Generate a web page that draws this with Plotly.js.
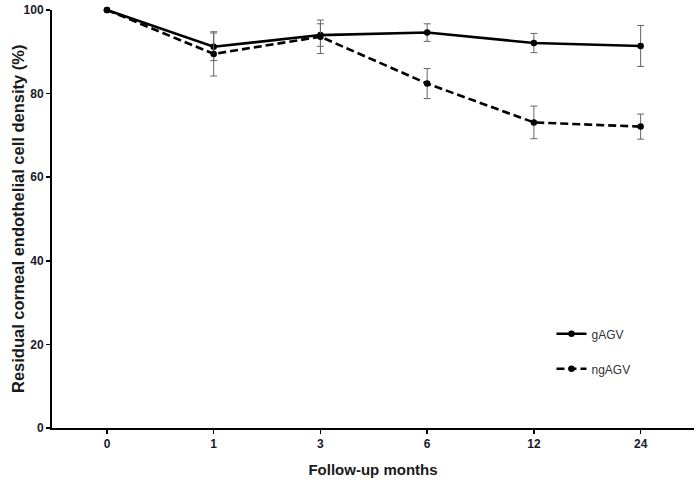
<!DOCTYPE html>
<html>
<head>
<meta charset="utf-8">
<script src="https://cdn.plot.ly/plotly-3.0.1.min.js"></script>
<style>html,body{margin:0;padding:0;background:#fff;}#chart{width:700px;height:484px;}</style>
</head>
<body>
<div id="chart"></div>
<script>
var months = ["0", "1", "3", "6", "12", "24"];
var gAGV = [100, 91.2, 94.0, 94.6, 92.1, 91.4];
var gAGV_err = [0, 3.3, 2.7, 2.1, 2.3, 4.9];
var ngAGV = [100, 89.5, 93.6, 82.4, 73.1, 72.1];
var ngAGV_err = [0, 5.3, 4.0, 3.6, 3.9, 3.0];
var yTitle = "Residual corneal endothelial cell density (%)";
var xTitle = "Follow-up months";

var traces = [
  {
    x: months, y: gAGV, name: "gAGV", type: "scatter", mode: "lines+markers",
    legendgroup: "g",
    line: {color: "#000", width: 2.6},
    marker: {color: "#000", size: 6.5},
    error_y: {type: "data", array: gAGV_err, visible: true, color: "#666", thickness: 1, width: 3.5},
    cliponaxis: false
  },
  {
    x: months, y: ngAGV, name: "ngAGV", type: "scatter", mode: "lines+markers",
    legendgroup: "n",
    line: {color: "#000", width: 2.6, dash: "8px,4px"},
    marker: {color: "#000", size: 6.5},
    error_y: {type: "data", array: ngAGV_err, visible: true, color: "#666", thickness: 1, width: 3.5},
    cliponaxis: false
  }
];

var layout = {
  width: 700, height: 484,
  margin: {l: 52, r: 6, t: 10, b: 56},
  paper_bgcolor: "#fff", plot_bgcolor: "#fff",
  font: {family: "Liberation Sans, Arial, sans-serif", color: "#111"},
  xaxis: {
    type: "category", range: [-0.515, 5.5],
    showline: true, linecolor: "#000", linewidth: 2,
    ticks: "outside", ticklen: 4, tickcolor: "#000", tickwidth: 1.5,
    showgrid: false, zeroline: false,
    tickfont: {size: 12, family: "Liberation Sans, Arial, sans-serif", weight: "bold", color: "#1a1a2a"},
    title: {text: xTitle, font: {size: 15, weight: "bold", color: "#1a1a1a"}, standoff: 14}
  },
  yaxis: {
    range: [0, 100], tickvals: [0, 20, 40, 60, 80, 100],
    showline: true, linecolor: "#000", linewidth: 2,
    ticks: "outside", ticklen: 4, tickcolor: "#000", tickwidth: 1.5,
    showgrid: false, zeroline: false,
    tickfont: {size: 12, family: "Liberation Sans, Arial, sans-serif", weight: "bold", color: "#1a1a2a"}
  },
  annotations: [{
    text: yTitle, textangle: -90, showarrow: false,
    xref: "paper", yref: "paper", x: -34 / 642, y: 0.5,
    xanchor: "center", yanchor: "middle",
    font: {size: 16.5, weight: "bold", color: "#1a1a1a", family: "Liberation Sans, Arial, sans-serif"}
  }],
  showlegend: true,
  legend: {
    x: 0.778, y: 0.26, xanchor: "left", yanchor: "top",
    traceorder: "grouped", tracegroupgap: 16,
    bgcolor: "rgba(0,0,0,0)", borderwidth: 0,
    font: {size: 12, color: "#333"}
  }
};

Plotly.newPlot("chart", traces, layout, {displayModeBar: false, staticPlot: true});
</script>
</body>
</html>
